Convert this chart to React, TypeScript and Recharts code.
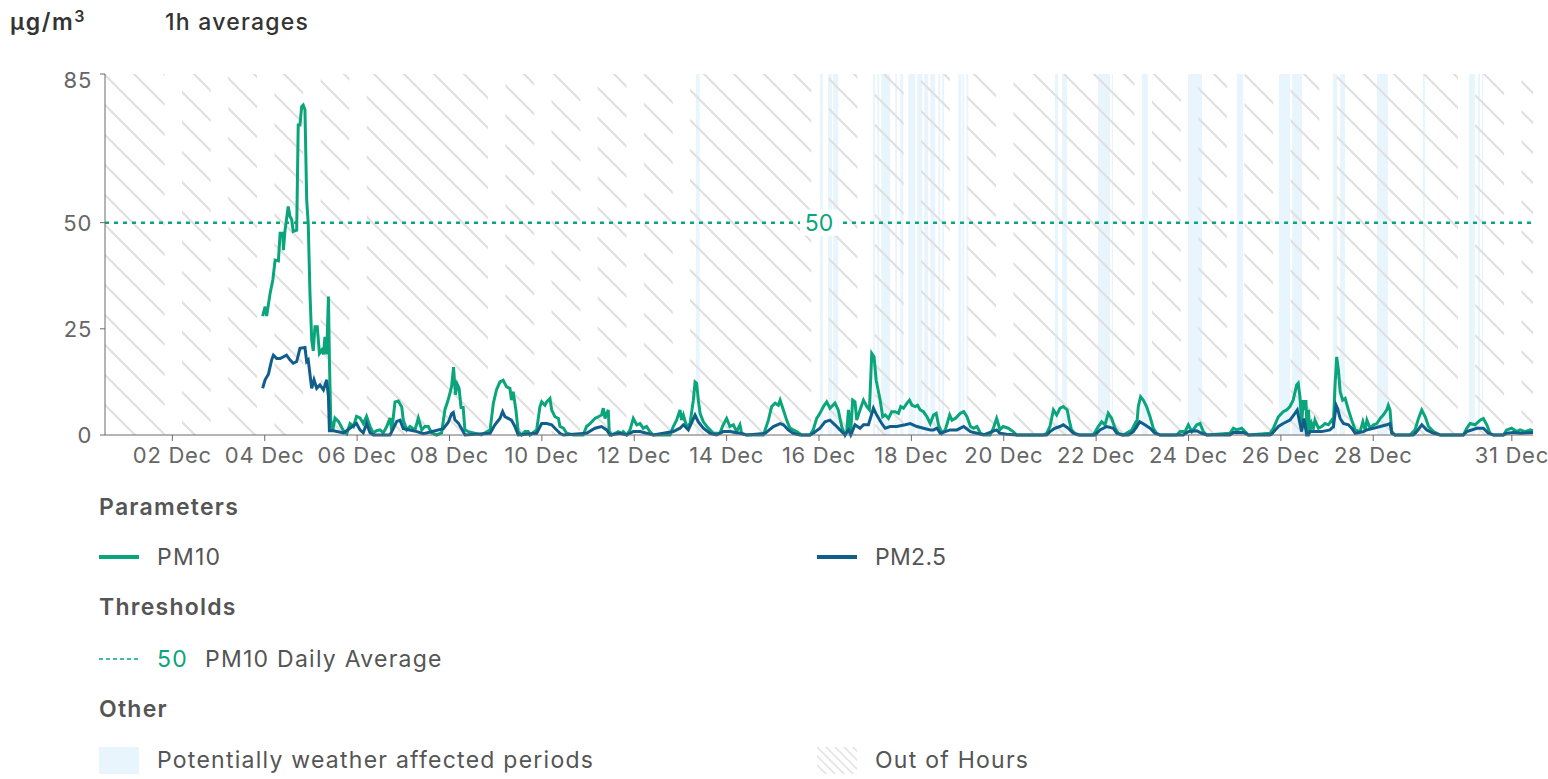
import React from 'react';
import { LineChart, Line, XAxis, YAxis, ReferenceArea, ReferenceLine } from 'recharts';

const FONT = 'Inter, "Noto Sans", sans-serif';
const GREEN = '#0aa57a';
const BLUE = '#0f5e8b';
const TEXT = '#555';
const AXIS = '#6b6b6b';

// hours since 01 Dec 00:00, value in µg/m3
const pm10Series: [number, number][] = [
  [82.9, 28], [84.2, 30.2], [85.0, 28], [86.8, 33.4], [88.2, 36.5], [89.4, 41.2], [91.1, 41], [92.0, 47.5], [93.4, 47.5], [93.7, 43.5],
  [94.5, 48], [96.2, 53.8], [97.1, 51.5], [98.0, 50.7], [98.8, 47.9], [100.6, 48.2], [101.4, 73], [102.3, 73], [103.2, 77.3], [104.0, 77.7],
  [104.9, 76.6], [105.8, 55.3], [106.6, 49.8], [107.5, 33.4], [108.4, 22.4], [109.2, 19.8], [110.1, 25.5], [111.3, 25.5], [112.4, 19.2], [113.6, 20],
  [114.5, 19], [115.3, 23.1], [116.2, 19], [117.1, 32.6], [117.6, 17.7], [118.3, 3.5], [119.3, 1], [120.5, 4], [122.3, 3.2], [124.9, 1],
  [126.6, 0.3], [128.3, 2.7], [130.1, 2], [131.7, 4.4], [133.5, 4], [135.2, 2.7], [136.9, 4.4], [138.7, 2], [140.4, 0.5], [142.1, 1],
  [143.9, 1.2], [145.6, 0.5], [147.4, 2], [149.1, 4], [150.0, 1], [151.7, 7.8], [153.4, 8], [155.2, 6.6], [156.0, 3.5], [157.8, 1.2],
  [159.5, 2], [162.1, 1.2], [163.8, 4], [165.6, 1.2], [167.2, 2], [169.0, 2], [170.7, 0.5], [173.3, 0], [175.9, 0.5], [177.6, 5.9],
  [179.4, 8.4], [181.1, 11.4], [182.1, 16], [183.1, 9.5], [184.0, 12], [185.0, 11], [186.0, 6.5], [187.1, 6.5], [188.0, 1.2], [189.8, 0.8],
  [192.5, 0.5], [196.5, 0], [201.1, 1.2], [202.8, 7.5], [204.4, 10.6], [206.2, 12.5], [207.9, 12.9], [209.6, 11.4], [211.4, 11], [212.2, 8.2],
  [213.1, 10.2], [214.5, 5.9], [215.7, 0.8], [217.5, 0], [219.2, 0.8], [220.9, 0.8], [221.8, 0], [225.3, 1.2], [227.0, 6.7], [227.9, 7.8],
  [229.6, 7], [230.5, 7.8], [232.2, 8.6], [233.1, 5.9], [234.8, 4.3], [236.6, 3.9], [237.4, 2], [239.2, 1.6], [240.9, 0.4], [244.3, 0],
  [249.5, 0], [251.2, 2], [253.0, 2.7], [255.6, 3.9], [257.3, 4.3], [259.0, 4.7], [259.9, 6.3], [260.8, 3.9], [261.7, 5.1], [262.5, 5.9],
  [263.0, 0.8], [264.3, 0], [267.7, 0.8], [269.5, 0.4], [270.3, 0.8], [272.1, 0], [273.8, 1.2], [275.5, 3.9], [277.3, 2.4], [279.0, 2.7],
  [280.7, 1.6], [282.4, 2], [284.1, 0.8], [285.9, 0], [294.6, 0], [296.3, 2], [298.0, 3.5], [299.8, 5.9], [300.6, 3.5], [301.5, 4.7],
  [303.2, 2], [305.0, 2.7], [306.7, 8.2], [307.6, 12.5], [308.4, 12.2], [309.3, 8.2], [310.2, 5.1], [311.9, 3.1], [313.7, 2], [315.4, 1.2],
  [317.1, 0.4], [320.5, 0.4], [322.2, 2.4], [324.0, 3.9], [325.7, 2], [327.5, 2.4], [329.2, 0.8], [330.9, 2.4], [331.8, 0.4], [334.4, 0],
  [343.1, 0], [344.0, 1.2], [345.7, 3.5], [347.4, 6.7], [349.2, 7.5], [350.9, 7], [351.8, 8.2], [353.5, 5.9], [355.2, 3.5], [356.9, 1.6],
  [358.6, 1.2], [360.4, 0.8], [363.0, 0], [367.3, 0], [369.0, 1.2], [370.8, 3.9], [372.5, 5.1], [374.3, 6.7], [376.0, 7.8], [377.7, 6.3],
  [380.3, 7.5], [382.0, 5.9], [383.8, 2], [385.5, 0], [386.4, 0.8], [387.3, 5.9], [388.5, 0.8], [389.5, 8.2], [390.7, 7.8], [391.6, 3.5],
  [393.3, 5.9], [395.1, 8.2], [396.8, 6.7], [398.2, 5.9], [399.4, 19.2], [400.6, 18.4], [401.7, 12.9], [402.9, 10.2], [403.8, 8.2], [405.1, 4.3],
  [406.4, 4.7], [408.1, 3.9], [409.8, 5.5], [411.6, 5.5], [413.3, 5.1], [414.5, 6.7], [415.9, 6.3], [417.7, 7.5], [419.0, 8.2], [420.3, 7],
  [422.0, 6.7], [423.2, 7], [424.6, 5.9], [426.3, 5.5], [428.1, 4.3], [429.8, 2.7], [431.5, 4.7], [432.9, 5.1], [434.1, 2.4], [435.9, 0.4],
  [437.6, 1.2], [439.9, 4.7], [441.1, 3.5], [442.8, 3.9], [445.4, 5.1], [447.2, 5.5], [448.9, 4.3], [450.7, 2], [452.4, 1.6], [454.1, 2],
  [455.9, 0.4], [458.3, 0], [460.9, 0], [462.6, 1.6], [464.3, 3.9], [465.1, 2.7], [466.0, 1.2], [467.7, 2], [470.3, 1.6], [472.9, 0.8],
  [474.7, 0], [488.6, 0], [490.3, 0.4], [492.0, 2], [493.8, 5.9], [495.5, 4.7], [497.2, 6.3], [498.9, 6.7], [501.0, 5.9], [502.0, 3.5],
  [503.2, 1.2], [505.0, 0.4], [507.6, 0], [514.5, 0], [517.1, 2], [518.9, 3.1], [520.6, 2.4], [522.3, 5.1], [524.1, 3.9], [525.8, 1.6],
  [527.6, 0.4], [530.2, 0], [534.5, 1.2], [536.2, 2.7], [537.0, 1.6], [537.9, 6.7], [539.1, 9], [540.5, 8.2], [542.2, 6.7], [544.0, 4.3],
  [545.7, 1.6], [547.4, 0.4], [549.2, 0], [557.8, 0], [559.6, 0.8], [562.2, 0.8], [563.9, 2.4], [565.7, 0.8], [568.3, 2.4], [570.0, 2.7],
  [571.7, 0.8], [573.5, 0], [585.5, 0.4], [587.3, 1.6], [589.0, 1.2], [591.6, 1.6], [593.4, 0.8], [595.1, 0], [606.4, 0.4], [608.1, 1.6],
  [610.7, 4.3], [613.2, 5.5], [615.0, 5.9], [616.7, 6.7], [618.4, 8.2], [620.2, 11.8], [621.0, 12.2], [621.9, 9], [622.8, 2.4], [623.6, 8.2],
  [624.5, 5.9], [625.0, 8.2], [625.7, 0.4], [626.3, 5.9], [627.1, 0.8], [628.0, 2.7], [628.9, 1.6], [629.7, 3.5], [631.5, 1.6], [633.2, 2],
  [634.9, 2.7], [636.7, 2.4], [638.4, 3.5], [639.3, 2.7], [640.1, 11.4], [641.0, 18.4], [641.9, 15.3], [642.8, 10.2], [644.1, 8.2], [645.4, 8.6],
  [647.1, 5.9], [648.8, 3.5], [650.6, 1.2], [653.2, 0.8], [654.6, 3.1], [655.8, 1.2], [656.7, 3.5], [658.4, 1.6], [660.1, 2.4], [661.9, 2.7],
  [663.6, 3.9], [665.2, 4.7], [667.0, 5.9], [667.8, 7], [668.7, 5.9], [669.6, 0.8], [671.3, 0], [679.1, 0], [681.7, 1.2], [683.5, 3.9],
  [685.2, 5.9], [687.0, 4.3], [688.7, 2], [691.3, 0.8], [694.8, 0], [706.8, 0], [708.6, 1.6], [710.3, 2.7], [712.9, 2.4], [715.5, 3.5],
  [717.2, 3.9], [719.0, 2.4], [720.7, 0.4], [722.5, 0], [727.6, 0], [729.3, 1.2], [731.9, 1.6], [734.5, 0.8], [736.3, 1.2], [738.9, 0.8],
  [741.5, 1.2], [743, 1],
];

const pm25Series: [number, number][] = [
  [82.9, 11], [84.2, 13], [85.9, 14.3], [87.6, 17.7], [88.5, 18.8], [90.2, 18], [92.0, 18], [95.3, 18.8], [97.1, 17.7], [98.8, 16.9],
  [100.6, 17.3], [102.3, 20.4], [104.9, 20.6], [105.8, 17.3], [106.6, 17.7], [107.5, 14.3], [108.4, 11], [109.6, 13], [111.0, 11], [112.7, 11.8],
  [114.5, 10.6], [116.2, 13], [117.1, 9], [117.6, 1], [119.7, 1], [124.9, 0.5], [131.7, 2.7], [133.5, 1.2], [135.2, 0.5], [136.9, 2.7],
  [138.7, 0.5], [140.4, 0], [149.1, 0], [150.8, 1.5], [152.6, 3.2], [154.3, 3.5], [156.0, 1.5], [163.0, 0.8], [166.5, 0.3], [176.8, 1.5],
  [179.4, 3], [181.1, 5], [182.0, 5.3], [182.8, 3.6], [184.6, 2.8], [186.3, 1.5], [188.1, 0], [201.1, 0.4], [203.6, 2.4], [206.2, 3.9],
  [207.6, 5.5], [208.8, 4.3], [210.5, 3.9], [212.2, 3.5], [214.0, 2], [215.7, 0], [225.3, 0.4], [227.9, 2.7], [230.5, 2.7], [233.1, 2.4],
  [234.8, 1.6], [237.4, 0.4], [239.2, 0], [251.2, 0.4], [255.6, 1.6], [259.0, 2], [261.7, 1.2], [263.4, 0], [268.6, 0.4], [272.1, 0],
  [275.5, 0.8], [279.0, 0.8], [285.9, 0], [296.3, 0.8], [299.8, 1.6], [301.5, 2.4], [304.1, 1.2], [307.6, 4.7], [309.3, 3.1], [311.9, 1.6],
  [315.4, 0.4], [318.8, 0], [322.2, 0.8], [325.7, 0.8], [330.9, 0.4], [334.4, 0], [344.0, 0.4], [348.3, 2], [351.8, 2.7], [353.5, 2.4],
  [356.0, 1.2], [358.6, 0.4], [362.1, 0], [367.3, 0], [369.0, 0.4], [372.5, 1.6], [375.1, 3.1], [377.7, 3.5], [380.3, 2.4], [382.9, 1.2],
  [385.5, 0], [387.3, 1.2], [388.5, 0], [390.7, 2.4], [393.3, 1.6], [395.1, 2.4], [397.7, 2.4], [400.3, 6.3], [402.0, 4.7], [404.6, 2.7],
  [406.4, 1.6], [409.0, 2], [412.4, 2], [416.8, 2.4], [419.4, 2.7], [422.9, 2], [426.3, 1.6], [429.8, 1.2], [431.5, 1.2], [433.3, 1.6],
  [435.0, 0.4], [440.2, 1.2], [443.7, 1.2], [447.2, 2], [450.7, 0.8], [454.1, 0.4], [457.4, 0], [464.3, 1.2], [466.0, 0.4], [469.5, 0.2],
  [474.7, 0], [490.3, 0], [492.0, 0.8], [494.6, 1.6], [497.2, 2], [498.9, 2.4], [501.5, 1.6], [504.1, 0.4], [506.7, 0], [515.4, 0],
  [518.0, 1.2], [521.5, 2], [524.9, 1.6], [526.7, 0.4], [529.3, 0], [532.8, 0], [535.3, 0.8], [538.7, 3.1], [541.3, 2.4], [544.0, 1.6],
  [546.6, 0.4], [549.2, 0], [561.3, 0], [563.9, 0.8], [568.3, 1], [570.8, 0.4], [573.5, 0], [585.5, 0], [587.3, 0.6], [592.5, 0.6],
  [595.1, 0], [606.4, 0], [607.2, 0.2], [610.7, 2], [613.2, 2.7], [616.7, 3.5], [619.3, 5.1], [620.5, 5.9], [621.9, 2.7], [622.8, 0.8],
  [624.0, 3.9], [625.4, 0], [626.3, 0], [627.1, 0.8], [629.7, 0.8], [633.2, 0.8], [637.5, 1.2], [639.3, 2], [640.7, 7], [641.4, 6.3],
  [642.8, 3.9], [644.5, 2.7], [647.1, 2.4], [648.8, 1.6], [650.6, 0.4], [654.9, 0.8], [656.7, 1.2], [660.1, 1.6], [663.6, 2], [667.0, 2.4],
  [668.7, 2.7], [669.6, 0.4], [671.3, 0], [680.9, 0], [682.6, 0.8], [685.2, 2.4], [687.8, 1.2], [691.3, 0.4], [694.8, 0], [706.8, 0],
  [708.6, 0.8], [713.8, 1.6], [717.2, 1.6], [719.8, 0.4], [722.5, 0], [727.6, 0], [729.3, 0.4], [732.8, 0.6], [736.3, 0.4], [743, 0.6],
];

const tickDays = [2, 4, 6, 8, 10, 12, 14, 16, 18, 20, 22, 24, 26, 28, 31];
const tickLabels = ['02 Dec', '04 Dec', '06 Dec', '08 Dec', '10 Dec', '12 Dec', '14 Dec', '16 Dec', '18 Dec', '20 Dec', '22 Dec', '24 Dec', '26 Dec', '28 Dec', '31 Dec'];
const yTicks = [0, 25, 50, 85];
const thresholdValue = 50;
const workingDays = [2, 3, 4, 5, 6, 9, 10, 11, 12, 13, 16, 17, 18, 19, 20, 23, 24, 25, 26, 27, 30, 31];
const workStartHour = 8;
const workEndHour = 17;
const domainStart = 1;
const domainEnd = 743;
const weatherPeriods: [number, number][] = [
  [308, 310], [372.5, 374], [376.7, 378.8], [379.3, 382], [400, 401.2], [402.3, 403.3], [404.3, 409], [411.6, 412.6],
  [414.2, 415.8], [418.4, 422], [423, 425.7], [426.7, 428.8], [429.8, 432.4], [434, 435], [436, 437], [444.4, 446],
  [446.5, 447.5], [448.6, 449.6], [494.6, 496.2], [498.3, 500.9], [517, 523.2], [524.2, 524.8], [539.8, 542.9], [563.7, 571],
  [589.2, 592.4], [611, 616.8], [617.8, 623], [639.1, 641.2], [642.8, 645.4], [661.9, 667.6], [685.8, 686.8], [709.7, 712.8],
  [714.4, 715.5], [716.5, 717.1],
];

const pm10Data = pm10Series.map(([h, v]) => ({ h, v }));
const pm25Data = pm25Series.map(([h, v]) => ({ h, v }));
const tickHours = tickDays.map((d) => (d - 1) * 24 + 12);

const outOfHours: [number, number][] = (() => {
  const res: [number, number][] = [];
  let cursor = domainStart;
  workingDays.forEach((d) => {
    const s = (d - 1) * 24 + workStartHour;
    const e = (d - 1) * 24 + workEndHour;
    if (s > cursor) res.push([cursor, s]);
    cursor = e;
  });
  if (cursor < domainEnd) res.push([cursor, domainEnd]);
  return res;
})();

const XTick = (props: any) => {
  const { x, y, payload } = props;
  const idx = tickHours.indexOf(payload.value);
  return (
    <text x={x} y={y} dy={20} textAnchor="middle" fill="#666" fontSize={22} fontFamily={FONT} style={{ letterSpacing: '0.7px' }}>
      {idx >= 0 ? tickLabels[idx] : ''}
    </text>
  );
};

const YTick = (props: any) => {
  const { x, y, payload } = props;
  const shift = payload.value === 85 ? 6 : 0;
  return (
    <text x={x - 6} y={y + shift} dy={8} textAnchor="end" fill="#666" fontSize={22} fontFamily={FONT} style={{ letterSpacing: '0.7px' }}>
      {payload.value}
    </text>
  );
};

const ThresholdLabel = (props: any) => {
  const vb = props.viewBox || {};
  const cx = (vb.x ?? 0) + (vb.width ?? 0) / 2;
  const cy = vb.y ?? 0;
  return (
    <g>
      <rect x={cx - 19} y={cy - 13} width={38} height={26} fill="#fff" />
      <text x={cx} y={cy} dy={8} textAnchor="middle" fill={GREEN} fontSize={23} fontFamily={FONT}>
        {thresholdValue}
      </text>
    </g>
  );
};

const textStyle: React.CSSProperties = {
  position: 'absolute',
  fontFamily: FONT,
  fontSize: 23,
  lineHeight: '28px',
  color: TEXT,
  letterSpacing: '1.25px',
  whiteSpace: 'nowrap',
};

export default function App() {
  return (
    <div style={{ position: 'absolute', left: 0, top: 0, width: 1548, height: 779, background: '#fff', overflow: 'hidden' }}>
      <svg width={0} height={0} style={{ position: 'absolute' }}>
        <defs>
          <pattern id="ooh" patternUnits="userSpaceOnUse" width={30} height={30}>
            <path d="M0,0 L30,30 M-3,27 L3,33 M27,-3 L33,3" stroke="#e0e0e0" strokeWidth={2.2} fill="none" />
          </pattern>
          <pattern id="oohSmall" patternUnits="userSpaceOnUse" width={9} height={9}>
            <path d="M0,0 L9,9 M-2,7 L2,11 M7,-2 L11,2" stroke="#e4e4e4" strokeWidth={1.6} fill="none" />
          </pattern>
        </defs>
      </svg>

      <div style={{ ...textStyle, left: 10, top: 8, color: '#333', fontWeight: 600, letterSpacing: '1.6px' }}>
        µg/m<sup style={{ fontSize: 16, verticalAlign: 'top', position: 'relative', top: -6 }}>3</sup>
      </div>
      <div style={{ ...textStyle, left: 165, top: 8, color: '#333', fontWeight: 500 }}>1h averages</div>

      <div style={{ position: 'absolute', left: 0, top: 0 }}>
        <LineChart width={1548} height={480} margin={{ top: 74, right: 15, left: 0, bottom: 0 }}>
          <XAxis
            dataKey="h"
            type="number"
            domain={[domainStart, domainEnd]}
            ticks={tickHours}
            interval={0}
            allowDataOverflow
            height={45}
            tickSize={6}
            tickMargin={2}
            stroke={AXIS}
            tick={<XTick />}
          />
          <YAxis
            type="number"
            domain={[0, 85]}
            ticks={yTicks}
            interval={0}
            width={105}
            tickSize={5}
            tickMargin={2}
            stroke={AXIS}
            tick={<YTick />}
          />
          {weatherPeriods.map(([a, b], i) => (
            <ReferenceArea key={'w' + i} x1={a} x2={b} fill="#e9f5fd" fillOpacity={1} stroke="none" ifOverflow="hidden" />
          ))}
          {outOfHours.map(([a, b], i) => (
            <ReferenceArea key={'o' + i} x1={a} x2={b} fill="url(#ooh)" fillOpacity={1} stroke="none" ifOverflow="hidden" />
          ))}
          <ReferenceLine y={thresholdValue} stroke={GREEN} strokeWidth={2.5} strokeDasharray="4 5" label={<ThresholdLabel />} />
          <Line data={pm10Data} dataKey="v" type="linear" stroke={GREEN} strokeWidth={3} dot={false} isAnimationActive={false} name="PM10" />
          <Line data={pm25Data} dataKey="v" type="linear" stroke={BLUE} strokeWidth={3} dot={false} isAnimationActive={false} name="PM2.5" />
        </LineChart>
      </div>

      <div style={{ ...textStyle, left: 99, top: 493, fontWeight: 600 }}>Parameters</div>
      <div style={{ position: 'absolute', left: 99, top: 555, width: 40, height: 4, background: GREEN }} />
      <div style={{ ...textStyle, left: 157, top: 543 }}>PM10</div>
      <div style={{ position: 'absolute', left: 817, top: 555, width: 40, height: 4, background: BLUE }} />
      <div style={{ ...textStyle, left: 875, top: 543, letterSpacing: '0.3px' }}>PM2.5</div>

      <div style={{ ...textStyle, left: 99, top: 593, fontWeight: 600 }}>Thresholds</div>
      <svg style={{ position: 'absolute', left: 99, top: 654 }} width={40} height={10}>
        <line x1={0} y1={5} x2={40} y2={5} stroke={GREEN} strokeWidth={1.5} strokeDasharray="4 3" />
      </svg>
      <div style={{ ...textStyle, left: 157, top: 645, color: GREEN }}>{thresholdValue}</div>
      <div style={{ ...textStyle, left: 205, top: 645 }}>PM10 Daily Average</div>

      <div style={{ ...textStyle, left: 99, top: 695, fontWeight: 600 }}>Other</div>
      <div style={{ position: 'absolute', left: 99, top: 747, width: 40, height: 27, background: '#e9f5fd' }} />
      <div style={{ ...textStyle, left: 157, top: 746 }}>Potentially weather affected periods</div>
      <svg style={{ position: 'absolute', left: 817, top: 747 }} width={40} height={27}>
        <rect x={0} y={0} width={40} height={27} fill="url(#oohSmall)" />
      </svg>
      <div style={{ ...textStyle, left: 875, top: 746 }}>Out of Hours</div>
    </div>
  );
}
